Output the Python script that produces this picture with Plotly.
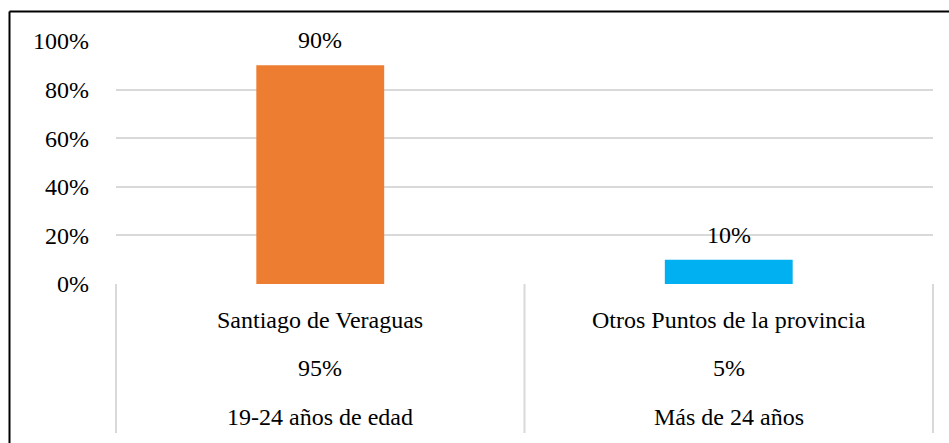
import plotly.graph_objects as go

categories = ["Santiago de Veraguas", "Otros Puntos de la provincia"]
values = [0.90, 0.10]
row2_labels = ["95%", "5%"]
row3_labels = ["19-24 años de edad", "Más de 24 años"]
bar_colors = ["#ED7D31", "#00B0F0"]
y_ticks = [0, 0.2, 0.4, 0.6, 0.8, 1.0]
y_tick_labels = ["0%", "20%", "40%", "60%", "80%", "100%"]

FONT = "Liberation Serif"
FS = 24
W, H = 949, 443
L, R, T, B = 116, 16, 40, 159
PW = W - L - R
PH = H - T - B
YMAX = PH / 243.0

def py(pix):
    return (H - B - pix) / PH

def px(pix):
    return (pix - L) / PW

fig = go.Figure()
fig.add_trace(go.Bar(
    x=categories, y=values, marker=dict(color=bar_colors, line=dict(width=0)),
    width=0.313, hoverinfo="skip", showlegend=False,
))

for c, v in zip(categories, values):
    fig.add_annotation(x=c, y=v, xref="x", yref="y", text=f"{round(v*100)}%",
                       showarrow=False, yanchor="middle", yshift=25,
                       font=dict(family=FONT, size=FS, color="black"))
rows = [categories, row2_labels, row3_labels]
row_y = [320, 368, 417]
for labels, yy in zip(rows, row_y):
    for c, t in zip(categories, labels):
        fig.add_annotation(x=c, y=py(yy), xref="x", yref="paper", text=t,
                           showarrow=False, yanchor="middle",
                           font=dict(family=FONT, size=FS, color="black"))

grey = "#D9D9D9"
for xp in [0, 0.5, 1]:
    fig.add_shape(type="line", xref="paper", yref="paper", x0=xp, x1=xp,
                  y0=0, y1=py(433), line=dict(color=grey, width=2))
# outer border (top and left)
fig.add_shape(type="line", xref="paper", yref="paper", x0=px(9.5), x1=px(960),
              y0=py(11.5), y1=py(11.5), line=dict(color="black", width=2))
fig.add_shape(type="line", xref="paper", yref="paper", x0=px(9.5), x1=px(9.5),
              y0=py(11.5), y1=py(460), line=dict(color="black", width=2))

fig.update_layout(
    width=W, height=H,
    margin=dict(l=L, r=R, t=T, b=B, pad=0),
    paper_bgcolor="white", plot_bgcolor="white",
    xaxis=dict(range=[-0.5, 1.5], showticklabels=False, showgrid=False,
               zeroline=False, showline=False, fixedrange=True),
    yaxis=dict(range=[0, YMAX], tickvals=y_ticks, ticktext=y_tick_labels,
               showgrid=True, gridcolor=grey, gridwidth=2, zeroline=False,
               showline=False, ticks="", ticklabelstandoff=26,
               tickfont=dict(family=FONT, size=FS, color="black"), fixedrange=True),
    bargap=0.5,
)
fig.write_html("out.html", config={"displayModeBar": False},
               post_script="document.body.style.margin='0';document.body.style.overflow='hidden';")
